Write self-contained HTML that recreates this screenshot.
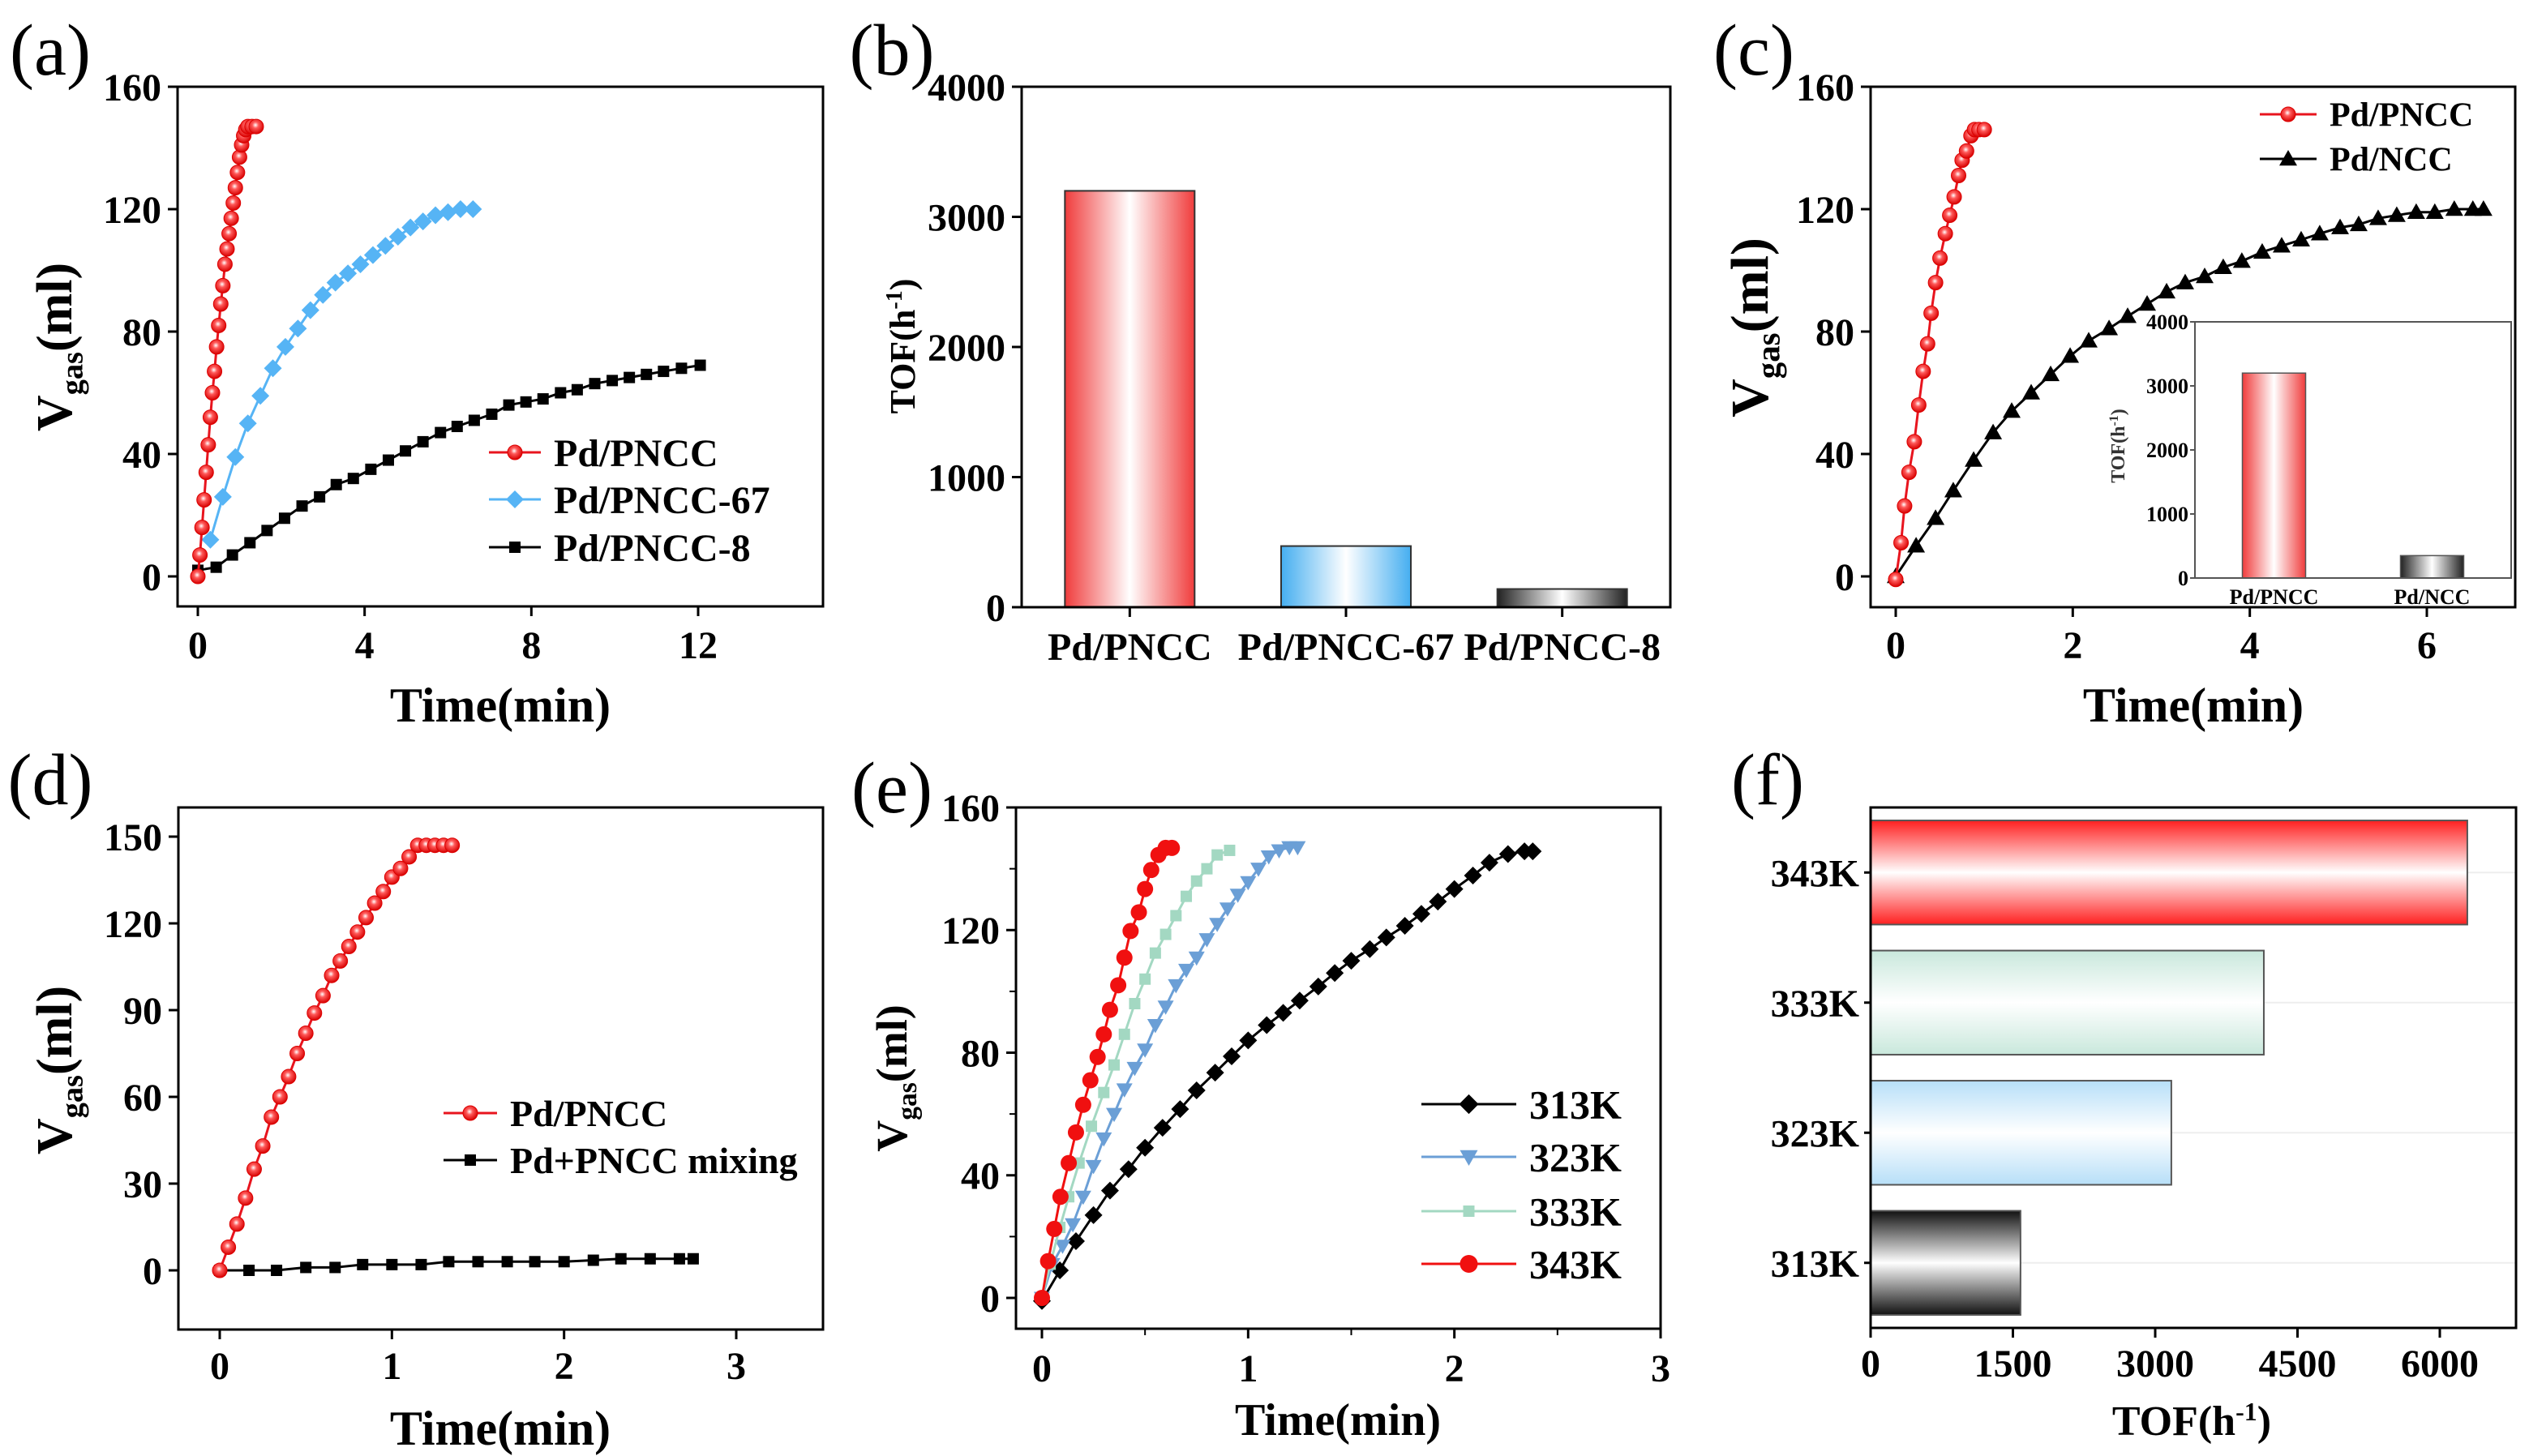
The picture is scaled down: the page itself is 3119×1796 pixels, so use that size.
<!DOCTYPE html>
<html><head><meta charset="utf-8"><style>
html,body{margin:0;padding:0;background:#fff;}
svg{display:block;font-family:"Liberation Serif",serif;}
text{font-family:"Liberation Serif",serif;}
</style></head><body>
<svg id="fig" width="3119" height="1796" viewBox="0 0 3119 1796" xmlns="http://www.w3.org/2000/svg">
<defs>
<radialGradient id="redball" cx="45%" cy="40%" r="60%"><stop offset="0%" stop-color="#ffffff"/><stop offset="35%" stop-color="#ff5a5a"/><stop offset="100%" stop-color="#d60000"/></radialGradient>
<linearGradient id="gRedH" x1="0" x2="1" y1="0" y2="0"><stop offset="0" stop-color="#f03c3c"/><stop offset="0.5" stop-color="#ffffff"/><stop offset="1" stop-color="#f03c3c"/></linearGradient>
<linearGradient id="gBlueH" x1="0" x2="1" y1="0" y2="0"><stop offset="0" stop-color="#45aef0"/><stop offset="0.5" stop-color="#ffffff"/><stop offset="1" stop-color="#45aef0"/></linearGradient>
<linearGradient id="gGrayH" x1="0" x2="1" y1="0" y2="0"><stop offset="0" stop-color="#222"/><stop offset="0.5" stop-color="#ffffff"/><stop offset="1" stop-color="#222"/></linearGradient>
<linearGradient id="gRedV" x1="0" x2="0" y1="0" y2="1"><stop offset="0" stop-color="#ff2020"/><stop offset="0.5" stop-color="#ffffff"/><stop offset="1" stop-color="#ff2020"/></linearGradient>
<linearGradient id="gGreenV" x1="0" x2="0" y1="0" y2="1"><stop offset="0" stop-color="#c9e8dc"/><stop offset="0.5" stop-color="#ffffff"/><stop offset="1" stop-color="#c9e8dc"/></linearGradient>
<linearGradient id="gBlueV" x1="0" x2="0" y1="0" y2="1"><stop offset="0" stop-color="#b7dff8"/><stop offset="0.5" stop-color="#ffffff"/><stop offset="1" stop-color="#b7dff8"/></linearGradient>
<linearGradient id="gGrayV" x1="0" x2="0" y1="0" y2="1"><stop offset="0" stop-color="#111"/><stop offset="0.5" stop-color="#ffffff"/><stop offset="1" stop-color="#111"/></linearGradient>
</defs>
</svg>
<script>
// ---- panel (a) data ----
const aPnccX = [0,0.05,0.1,0.15,0.2,0.25,0.3,0.35,0.4,0.45,0.5,0.55,0.6,0.65,0.7,0.75,0.8,0.85,0.9,0.95,1.0,1.05,1.1,1.15,1.2,1.3,1.4];
const aPnccY = [0,7,16,25,34,43,52,60,67,75,82,89,95,102,107,112,117,122,127,132,137,141,144,146,147,147,147];
const a67X = [0.3,0.6,0.9,1.2,1.5,1.8,2.1,2.4,2.7,3.0,3.3,3.6,3.9,4.2,4.5,4.8,5.1,5.4,5.7,6.0,6.3,6.6];
const a67Y = [12,26,39,50,59,68,75,81,87,92,96,99,102,105,108,111,114,116,118,119,120,120];
const a8X = [0,0.44,0.83,1.25,1.66,2.08,2.5,2.92,3.32,3.73,4.15,4.57,4.98,5.4,5.82,6.22,6.63,7.05,7.46,7.87,8.28,8.7,9.1,9.52,9.94,10.35,10.76,11.17,11.6,12.05];
const a8Y = [2,3,7,11,15,19,23,26,30,32,35,38,41,44,47,49,51,53,56,57,58,60,61,63,64,65,66,67,68,69];
const aXTicks = [0,4,8,12];
const aYTicks = [0,40,80,120,160];
// ---- panel (b) data ----
const bCats = ["Pd/PNCC","Pd/PNCC-67","Pd/PNCC-8"];
const bVals = [3200,470,140];
const bYTicks = [0,1000,2000,3000,4000];
// ---- panel (c) data ----
const cPnccX = [0,0.06,0.1,0.15,0.21,0.26,0.31,0.36,0.4,0.45,0.5,0.56,0.61,0.66,0.71,0.75,0.8,0.85,0.89,0.94,1.0];
const cPnccY = [-1,11,23,34,44,56,67,76,86,96,104,112,118,124,131,136,139,144,146,146,146];
const cNccX = [0,0.23,0.45,0.65,0.88,1.1,1.31,1.53,1.75,1.97,2.18,2.41,2.62,2.84,3.06,3.27,3.49,3.7,3.91,4.14,4.36,4.58,4.79,5.02,5.23,5.45,5.66,5.88,6.09,6.31,6.52,6.64];
const cNccY = [0,10,19,28,38,47,54,60,66,72,77,81,85,89,93,96,98,101,103,106,108,110,112,114,115,117,118,119,119,120,120,120];
const cXTicks = [0,2,4,6];
const cYTicks = [0,40,80,120,160];
const cInsetCats = ["Pd/PNCC","Pd/NCC"];
const cInsetVals = [3200,350];
const cInsetTicks = [0,1000,2000,3000,4000];
// ---- panel (d) data ----
const dPnccX = [0,0.05,0.1,0.15,0.2,0.25,0.3,0.35,0.4,0.45,0.5,0.55,0.6,0.65,0.7,0.75,0.8,0.85,0.9,0.95,1.0,1.05,1.1,1.15,1.2,1.25,1.3,1.35];
const dPnccY = [0,8,16,25,35,43,53,60,67,75,82,89,95,102,107,112,117,122,127,131,136,139,143,147,147,147,147,147];
const dMixX = [0,0.17,0.33,0.5,0.67,0.83,1.0,1.17,1.33,1.5,1.67,1.83,2.0,2.17,2.33,2.5,2.67,2.75];
const dMixY = [0,0,0,1,1,2,2,2,3,3,3,3,3,3.5,4,4,4,4];
const dXTicks = [0,1,2,3];
const dYTicks = [0,30,60,90,120,150];
// ---- panel (e) data ----
const e313X = [0,0.087,0.165,0.25,0.33,0.42,0.5,0.585,0.67,0.75,0.84,0.92,1.0,1.09,1.17,1.25,1.34,1.42,1.5,1.59,1.67,1.76,1.84,1.92,2.0,2.09,2.17,2.26,2.34,2.38];
const e313Y = [-1,9,18.5,27,35,42,49,55.5,61.6,67.7,73.5,78.8,84,89,93,97,101.6,106,110,113.8,117.6,121.4,125.3,129.3,133.4,137.8,142,144.8,145.7,145.7];
const e323X = [0,0.05,0.1,0.15,0.2,0.25,0.3,0.35,0.4,0.45,0.5,0.55,0.6,0.65,0.7,0.75,0.8,0.85,0.9,0.95,1.0,1.05,1.1,1.15,1.2,1.24];
const e323Y = [0,11,17,24,33,43,52,60,68,75,81,89,95,102,107,111,117,122,127,131.5,135.6,140,144,146,147,147];
const e333X = [0,0.04,0.087,0.13,0.18,0.24,0.3,0.35,0.4,0.45,0.5,0.55,0.6,0.65,0.7,0.75,0.8,0.85,0.91];
const e333Y = [0,11,23,33,44,56,67,76,86,96,104,112.5,118.6,124.7,131,136,140,144.5,146];
const e343X = [0,0.03,0.06,0.09,0.13,0.165,0.2,0.235,0.27,0.3,0.33,0.37,0.4,0.43,0.47,0.5,0.53,0.565,0.6,0.63];
const e343Y = [0,12,22.5,33,44,54,63,71,78.6,86,94,102,111,119.7,125.8,133.4,139.6,144.5,146.8,146.8];
const eXTicks = [0,1,2,3];
const eYTicks = [0,40,80,120,160];
// ---- panel (f) data ----
const fCats = ["343K","333K","323K","313K"];
const fVals = [6290,4145,3170,1580];
const fXTicks = [0,1500,3000,4500,6000];

const svg = document.getElementById('fig');
const NS = 'http://www.w3.org/2000/svg';
const TICK = 48;
function mk(tag, attrs, name, parent) {
  const el = document.createElementNS(NS, tag);
  for (const k in attrs) el.setAttribute(k, attrs[k]);
  
  
  (parent || svg).appendChild(el);
  return el;
}
function lin(d0, d1, r0, r1) { return v => r0 + (v - d0) * (r1 - r0) / (d1 - d0); }
function txt(x, y, s, size, anchor, name, bold, parent) {
  const t = mk('text', {x: x, y: y, 'font-size': size, 'text-anchor': anchor || 'middle', 'font-weight': bold === false ? 'normal' : 'bold', fill: '#000'}, name, parent);
  t.textContent = s;
  return t;
}
function box(x0, y0, x1, y1, name, sw) {
  return mk('rect', {x: x0, y: y0, width: x1 - x0, height: y1 - y0, fill: 'none', stroke: '#000', 'stroke-width': sw || 3}, name);
}
function yAxis(ticks, ys, x0, name, size, fmt, len) {
  const g = mk('g', {}, name);
  ticks.forEach(t => {
    mk('line', {x1: x0 - (len || 12), x2: x0, y1: ys(t), y2: ys(t), stroke: '#000', 'stroke-width': 3}, 'y-tick', g);
    txt(x0 - (len || 12) - 8, ys(t) + size * 0.35, fmt ? fmt(t) : String(t), size, 'end', 'y-tick-label', true, g);
  });
}
function xAxis(ticks, xs, y0, labelY, name, size) {
  const g = mk('g', {}, name);
  ticks.forEach(t => {
    mk('line', {x1: xs(t), x2: xs(t), y1: y0, y2: y0 + 12, stroke: '#000', 'stroke-width': 3}, 'x-tick', g);
    txt(xs(t), labelY + size * 0.35, String(t), size, 'middle', 'x-tick-label', true, g);
  });
}
function yTitleV(x, y, name, size) {
  const t = mk('text', {x: 0, y: 0, 'font-size': size, 'font-weight': 'bold', 'text-anchor': 'middle', transform: 'translate(' + x + ',' + y + ') rotate(-90)'}, name);
  const s1 = document.createElementNS(NS, 'tspan'); s1.textContent = 'V'; t.appendChild(s1);
  const s2 = document.createElementNS(NS, 'tspan'); s2.textContent = 'gas'; s2.setAttribute('font-size', size * 0.62); s2.setAttribute('dy', size * 0.22); t.appendChild(s2);
  const s3 = document.createElementNS(NS, 'tspan'); s3.textContent = '(ml)'; s3.setAttribute('dy', -size * 0.22); t.appendChild(s3);
}
function marker(type, x, y, color, name, parent, sz) {
  const s = sz || 10;
  if (type === 'ball') return mk('circle', {cx: x, cy: y, r: s, fill: 'url(#redball)', stroke: '#d00', 'stroke-width': 1}, name, parent);
  if (type === 'circle') return mk('circle', {cx: x, cy: y, r: s, fill: color}, name, parent);
  if (type === 'square') return mk('rect', {x: x - s * 0.7, y: y - s * 0.7, width: s * 1.4, height: s * 1.4, fill: color}, name, parent);
  if (type === 'diamond') return mk('polygon', {points: [x, y - s * 1.1, x + s * 1.1, y, x, y + s * 1.1, x - s * 1.1, y].join(','), fill: color}, name, parent);
  if (type === 'tri') return mk('polygon', {points: [x, y - s, x + s, y + s * 0.75, x - s, y + s * 0.75].join(','), fill: color}, name, parent);
  if (type === 'tridown') return mk('polygon', {points: [x, y + s, x + s, y - s * 0.75, x - s, y - s * 0.75].join(','), fill: color}, name, parent);
}
function series(X, Y, xs, ys, color, type, name, sz) {
  const g = mk('g', {}, name);
  mk('polyline', {points: X.map((v, i) => xs(v) + ',' + ys(Y[i])).join(' '), fill: 'none', stroke: color, 'stroke-width': 3}, name + '-line', g);
  X.forEach((v, i) => marker(type, xs(v), ys(Y[i]), color, name + '-point', g, sz));
}
function legend(x, y, label, color, type, name, size, lw, sz) {
  const g = mk('g', {}, name);
  mk('line', {x1: x, x2: x + lw, y1: y, y2: y, stroke: color, 'stroke-width': 3}, 'legend-line', g);
  marker(type, x + lw / 2, y, color, 'legend-marker', g, sz);
  txt(x + lw + 16, y + size * 0.35, label, size, 'start', 'legend-label', true, g);
}
function panelLabel(x, y, s) { txt(x, y, s, 90, 'middle', 'panel-label-' + s.replace(/[()]/g, ''), false); }

// ===== Panel (a) =====
(function () {
  const xs = lin(0, 12, 244, 861), ys = lin(0, 160, 711, 107);
  panelLabel(62, 92, '(a)');
  box(219, 107, 1015, 748, 'plot-frame-a');
  yAxis(aYTicks, ys, 219, 'y-axis-a', TICK);
  xAxis(aXTicks, xs, 748, 795, 'x-axis-a', TICK);
  yTitleV(88, 428, 'y-axis-title-a', 62);
  txt(617, 890, 'Time(min)', 60, 'middle', 'x-axis-title-a');
  series(a8X, a8Y, xs, ys, '#000', 'square', 'series-pd-pncc-8', 10);
  series(a67X, a67Y, xs, ys, '#56b4f5', 'diamond', 'series-pd-pncc-67', 10);
  series(aPnccX, aPnccY, xs, ys, '#e8141e', 'ball', 'series-pd-pncc', 9);
  legend(603, 558, 'Pd/PNCC', '#e8141e', 'ball', 'legend-pd-pncc', 48, 64, 9);
  legend(603, 616, 'Pd/PNCC-67', '#56b4f5', 'diamond', 'legend-pd-pncc-67', 48, 64, 10);
  legend(603, 675, 'Pd/PNCC-8', '#000', 'square', 'legend-pd-pncc-8', 48, 64, 10);
})();

// ===== Panel (b) =====
(function () {
  const x0 = 1260, x1 = 2060, ys = lin(0, 4000, 749, 107);
  const band = (x1 - x0) / bCats.length;
  panelLabel(1100, 92, '(b)');
  const grads = ['url(#gRedH)', 'url(#gBlueH)', 'url(#gGrayH)'];
  bCats.forEach((c, i) => {
    const cx = x0 + band * (i + 0.5), w = band * 0.6;
    mk('rect', {x: cx - w / 2, y: ys(bVals[i]), width: w, height: ys(0) - ys(bVals[i]), fill: grads[i], stroke: '#333', 'stroke-width': 2}, 'bar-' + c.toLowerCase().replace('/', '-'));
    mk('line', {x1: cx, x2: cx, y1: 749, y2: 761, stroke: '#000', 'stroke-width': 3}, 'x-tick');
    txt(cx, 814, c, 48, 'middle', 'x-category-label');
  });
  box(1260, 107, 2060, 749, 'plot-frame-b');
  yAxis(bYTicks, ys, 1260, 'y-axis-b', TICK);
  const t = mk('text', {x: 0, y: 0, 'font-size': 44, 'font-weight': 'bold', 'text-anchor': 'middle', transform: 'translate(1128,427) rotate(-90)'}, 'y-axis-title-b');
  t.innerHTML = 'TOF(h<tspan font-size="28" dy="-16">-1</tspan><tspan dy="16">)</tspan>';
})();

// ===== Panel (c) =====
(function () {
  const xs = lin(0, 6, 2338, 2993), ys = lin(0, 160, 711, 107);
  panelLabel(2163, 92, '(c)');
  box(2307, 107, 3102, 749, 'plot-frame-c');
  yAxis(cYTicks, ys, 2307, 'y-axis-c', TICK);
  xAxis(cXTicks, xs, 749, 795, 'x-axis-c', TICK);
  yTitleV(2180, 404, 'y-axis-title-c', 66);
  txt(2705, 890, 'Time(min)', 60, 'middle', 'x-axis-title-c');
  series(cNccX, cNccY, xs, ys, '#000', 'tri', 'series-pd-ncc', 11);
  series(cPnccX, cPnccY, xs, ys, '#e8141e', 'ball', 'series-pd-pncc-c', 9);
  legend(2787, 141, 'Pd/PNCC', '#e8141e', 'ball', 'legend-pd-pncc-c', 42, 70, 9);
  legend(2787, 196, 'Pd/NCC', '#000', 'tri', 'legend-pd-ncc', 42, 70, 11);
  // inset
  const ix0 = 2707, ix1 = 3097, iys = lin(0, 4000, 713, 397);
  mk('rect', {x: ix0, y: 397, width: ix1 - ix0, height: 316, fill: '#fff', stroke: 'none'}, 'inset-background');
  const band = (ix1 - ix0) / cInsetCats.length;
  const grads = ['url(#gRedH)', 'url(#gGrayH)'];
  cInsetCats.forEach((c, i) => {
    const cx = ix0 + band * (i + 0.5), w = band * 0.4;
    mk('rect', {x: cx - w / 2, y: iys(cInsetVals[i]), width: w, height: iys(0) - iys(cInsetVals[i]), fill: grads[i], stroke: '#555', 'stroke-width': 1.5}, 'inset-bar');
    txt(cx, 745, c, 26, 'middle', 'inset-category-label');
  });
  mk('rect', {x: ix0, y: 397, width: ix1 - ix0, height: 316, fill: 'none', stroke: '#555', 'stroke-width': 2}, 'inset-frame');
  const g = mk('g', {}, 'inset-y-axis');
  cInsetTicks.forEach(t => {
    mk('line', {x1: ix0 - 6, x2: ix0, y1: iys(t), y2: iys(t), stroke: '#555', 'stroke-width': 2}, 'inset-y-tick', g);
    txt(ix0 - 8, iys(t) + 9, String(t), 26, 'end', 'inset-y-tick-label', true, g);
  });
  const t = mk('text', {x: 0, y: 0, 'font-size': 24, 'font-weight': 'bold', 'text-anchor': 'middle', fill: '#333', transform: 'translate(2620,550) rotate(-90)'}, 'inset-y-title');
  t.innerHTML = 'TOF(h<tspan font-size="16" dy="-8">-1</tspan><tspan dy="8">)</tspan>';
})();

// ===== Panel (d) =====
(function () {
  const xs = lin(0, 3, 271, 908), ys = lin(0, 150, 1567, 1032);
  panelLabel(62, 992, '(d)');
  box(220, 996, 1015, 1640, 'plot-frame-d');
  yAxis(dYTicks, ys, 220, 'y-axis-d', TICK);
  xAxis(dXTicks, xs, 1640, 1684, 'x-axis-d', TICK);
  yTitleV(88, 1320, 'y-axis-title-d', 62);
  txt(617, 1782, 'Time(min)', 60, 'middle', 'x-axis-title-d');
  series(dMixX, dMixY, xs, ys, '#000', 'square', 'series-pd-pncc-mixing', 10);
  series(dPnccX, dPnccY, xs, ys, '#e8141e', 'ball', 'series-pd-pncc-d', 9);
  legend(547, 1373, 'Pd/PNCC', '#e8141e', 'ball', 'legend-pd-pncc-d', 46, 66, 9);
  legend(547, 1431, 'Pd+PNCC mixing', '#000', 'square', 'legend-pd-pncc-mixing', 46, 66, 10);
})();

// ===== Panel (e) =====
(function () {
  const xs = lin(0, 3, 1285, 2048), ys = lin(0, 160, 1601, 996);
  panelLabel(1100, 1002, '(e)');
  box(1253, 996, 2048, 1639, 'plot-frame-e');
  yAxis(eYTicks, ys, 1253, 'y-axis-e', TICK);
  xAxis(eXTicks, xs, 1639, 1687, 'x-axis-e', TICK);
  const mg = mk('g', {}, 'minor-ticks-e');
  [20, 60, 100, 140].forEach(v => mk('line', {x1: 1245, x2: 1253, y1: ys(v), y2: ys(v), stroke: '#000', 'stroke-width': 2}, 'y-minor-tick', mg));
  [0.5, 1.5, 2.5].forEach(v => mk('line', {x1: xs(v), x2: xs(v), y1: 1639, y2: 1647, stroke: '#000', 'stroke-width': 2}, 'x-minor-tick', mg));
  yTitleV(1118, 1330, 'y-axis-title-e', 54);
  txt(1650, 1770, 'Time(min)', 56, 'middle', 'x-axis-title-e');
  series(e313X, e313Y, xs, ys, '#000', 'diamond', 'series-313k', 10);
  series(e323X, e323Y, xs, ys, '#6b9fd6', 'tridown', 'series-323k', 10);
  series(e333X, e333Y, xs, ys, '#a3d8c2', 'square', 'series-333k', 10);
  series(e343X, e343Y, xs, ys, '#f01010', 'circle', 'series-343k', 10);
  legend(1753, 1362, '313K', '#000', 'diamond', 'legend-313k', 50, 117, 11);
  legend(1753, 1427, '323K', '#6b9fd6', 'tridown', 'legend-323k', 50, 117, 11);
  legend(1753, 1494, '333K', '#a3d8c2', 'square', 'legend-333k', 50, 117, 10);
  legend(1753, 1559, '343K', '#f01010', 'circle', 'legend-343k', 50, 117, 11);
})();

// ===== Panel (f) =====
(function () {
  const xs = lin(0, 6000, 2307, 3009), y0 = 996, y1 = 1638;
  const band = (y1 - y0) / fCats.length;
  panelLabel(2180, 992, '(f)');
  const grads = ['url(#gRedV)', 'url(#gGreenV)', 'url(#gBlueV)', 'url(#gGrayV)'];
  fCats.forEach((c, i) => {
    const cy = y0 + band * (i + 0.5), h = band * 0.8;
    mk('line', {x1: 2307, x2: 3103, y1: cy, y2: cy, stroke: '#eee', 'stroke-width': 2}, 'grid-line');
    mk('rect', {x: xs(0), y: cy - h / 2, width: xs(fVals[i]) - xs(0), height: h, fill: grads[i], stroke: '#555', 'stroke-width': 2}, 'bar-' + c.toLowerCase());
    mk('line', {x1: 2299, x2: 2307, y1: cy, y2: cy, stroke: '#000', 'stroke-width': 3}, 'y-tick');
    txt(2293, cy + 17, c, 48, 'end', 'y-category-label');
  });
  box(2307, 996, 3103, 1638, 'plot-frame-f');
  xAxis(fXTicks, xs, 1638, 1681, 'x-axis-f', TICK);
  const t = mk('text', {x: 2703, y: 1770, 'font-size': 52, 'font-weight': 'bold', 'text-anchor': 'middle'}, 'x-axis-title-f');
  t.innerHTML = 'TOF(h<tspan font-size="32" dy="-18">-1</tspan><tspan dy="18">)</tspan>';
})();
</script>
</body></html>
